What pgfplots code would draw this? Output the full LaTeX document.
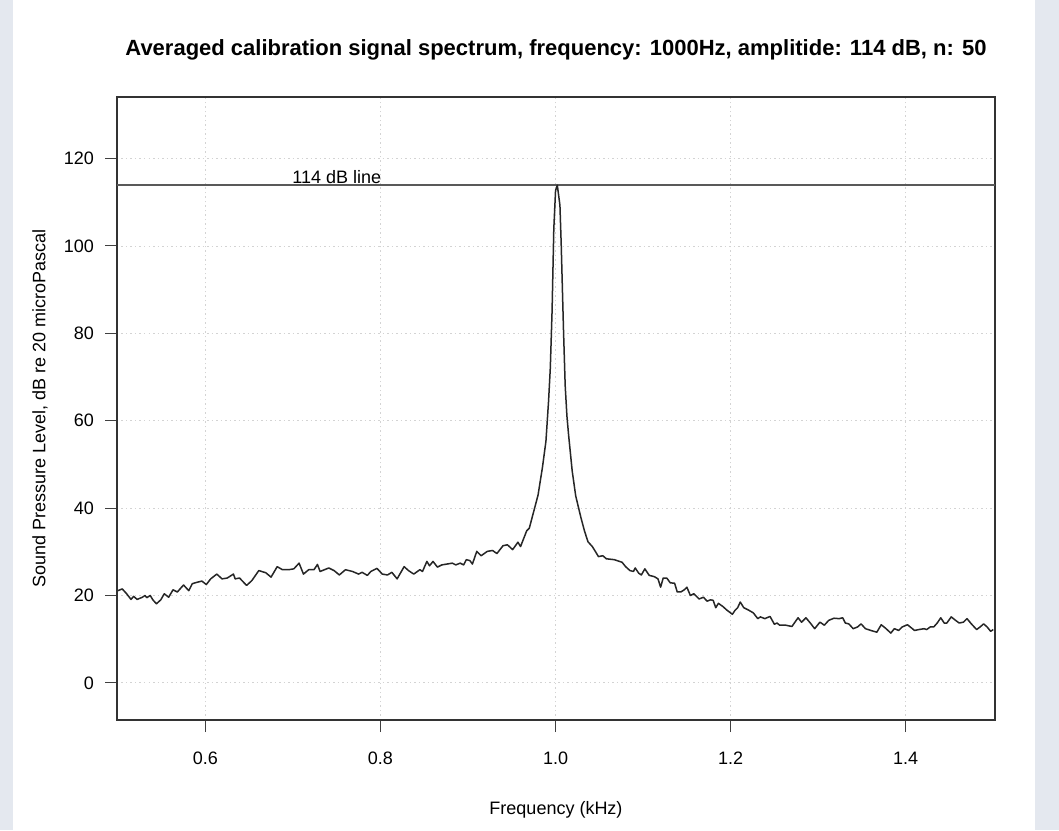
\documentclass[border=0pt]{standalone}
\usepackage{fontspec}
\setmainfont{Liberation Sans}
\usepackage{pgfplots}
\pgfplotsset{compat=1.18}
\definecolor{bgside}{HTML}{E4E8EF}
\definecolor{gridgray}{HTML}{D3D3D3}

\pgfplotstableread{
f dB
0.500 21.1
0.505 21.5
0.510 20.4
0.515 19.1
0.518 19.8
0.522 19.1
0.528 19.6
0.531 20.0
0.533 19.5
0.537 20.0
0.540 19.0
0.544 18.1
0.549 19.0
0.553 20.4
0.558 19.6
0.563 21.3
0.568 20.8
0.571 21.5
0.575 22.4
0.581 21.1
0.585 22.7
0.590 23.0
0.596 23.3
0.601 22.5
0.606 23.8
0.613 24.9
0.619 23.8
0.625 24.0
0.632 24.9
0.634 23.8
0.639 24.0
0.647 22.3
0.653 23.4
0.661 25.7
0.669 25.2
0.675 24.2
0.682 26.6
0.688 25.9
0.695 25.9
0.701 26.1
0.707 27.4
0.712 24.9
0.718 25.9
0.724 25.9
0.728 27.1
0.731 25.5
0.741 26.3
0.747 25.7
0.753 24.7
0.760 25.9
0.768 25.5
0.775 24.9
0.779 25.3
0.785 24.6
0.789 25.5
0.796 26.2
0.802 24.9
0.808 24.7
0.813 25.3
0.819 23.8
0.827 26.6
0.832 25.7
0.838 24.9
0.845 25.9
0.848 25.5
0.853 27.8
0.856 26.8
0.860 27.8
0.865 26.5
0.870 27.0
0.882 27.4
0.886 27.0
0.891 27.4
0.895 27.0
0.898 28.2
0.902 28.0
0.905 27.2
0.910 30.1
0.915 29.1
0.922 30.1
0.928 30.3
0.933 29.6
0.940 31.4
0.945 31.6
0.951 30.5
0.957 32.2
0.960 31.2
0.967 34.8
0.970 35.4
0.975 39.2
0.980 43.0
0.985 49.3
0.989 55.3
0.992 64.5
0.994 72.1
0.996 85.0
0.998 104.0
1.000 112.7
1.002 113.9
1.005 109.3
1.0065 100.0
1.009 81.2
1.011 68.0
1.013 61.0
1.015 56.5
1.019 48.5
1.023 42.8
1.029 37.8
1.033 34.8
1.037 32.3
1.042 31.2
1.046 29.9
1.049 28.9
1.054 29.1
1.058 28.4
1.067 28.2
1.076 27.6
1.080 26.6
1.085 25.7
1.089 25.5
1.091 26.3
1.095 25.1
1.098 24.7
1.102 26.1
1.107 24.6
1.113 24.3
1.117 23.8
1.120 21.9
1.123 24.0
1.127 24.0
1.131 22.9
1.136 22.8
1.139 20.8
1.143 20.8
1.147 21.3
1.150 21.9
1.154 20.0
1.158 20.4
1.164 19.2
1.169 19.6
1.173 18.7
1.177 19.0
1.180 18.9
1.183 17.2
1.186 18.2
1.191 17.5
1.196 16.6
1.202 15.7
1.205 16.6
1.208 17.2
1.211 18.5
1.215 17.2
1.221 16.6
1.226 16.0
1.231 14.7
1.234 15.1
1.239 14.7
1.245 15.2
1.250 13.4
1.253 13.7
1.256 13.2
1.263 13.2
1.270 12.9
1.277 14.9
1.281 13.9
1.286 14.9
1.291 13.7
1.296 12.4
1.302 13.9
1.307 13.2
1.312 14.3
1.318 14.8
1.324 14.7
1.328 14.9
1.331 13.7
1.335 13.5
1.340 12.4
1.345 12.8
1.349 13.5
1.354 12.4
1.360 12.0
1.367 11.6
1.372 13.3
1.377 12.5
1.383 11.4
1.387 12.4
1.392 12.0
1.396 12.8
1.402 13.3
1.407 12.5
1.410 12.0
1.415 12.2
1.421 12.4
1.424 12.2
1.428 12.8
1.432 12.8
1.436 13.7
1.440 14.9
1.444 13.7
1.447 13.7
1.452 15.1
1.457 14.3
1.461 13.7
1.466 13.9
1.470 14.7
1.475 13.5
1.481 12.2
1.485 12.8
1.489 13.5
1.493 12.8
1.497 11.8
1.500 12.2
}\spectrum

\begin{document}
\begin{tikzpicture}[x=1pt,y=1pt]
% page frame: light side strips, white panel
\useasboundingbox (-117,-110) rectangle (942,720);
\fill[bgside] (-117,-110) rectangle (-104,720);
\fill[white] (-104,-110) rectangle (918,720);
\fill[bgside] (918,-110) rectangle (942,720);

\begin{axis}[
  at={(0,0)}, anchor=south west,
  scale only axis, width=878pt, height=623pt,
  xmin=0.499, xmax=1.502, ymin=-8.5, ymax=134.1,
  xtick={0.6,0.8,1.0,1.2,1.4}, ytick={0,20,40,60,80,100,120},
  xtick pos=bottom, ytick pos=left,
  tick align=outside, major tick length=12pt,
  axis line style={draw=black!80, line width=1.1pt},
  tick style={draw=black!75, line width=1pt},
  grid=major,
  major grid style={draw=gridgray, line width=0.9pt, dash pattern=on 1.5pt off 3pt},
  font=\fontsize{18}{21}\selectfont,
  /pgf/number format/assume math mode=true,
  xticklabel style={anchor=base, inner sep=0pt, yshift=-32pt,
    /pgf/number format/fixed, /pgf/number format/fixed zerofill,
    /pgf/number format/precision=1},
  yticklabel style={anchor=east, inner sep=0pt, xshift=-11pt},
  xlabel={Frequency (kHz)},
  ylabel={Sound Pressure Level, dB re 20 microPascal},
  xlabel style={at={(axis description cs:0.5,0)}, anchor=base, inner sep=0pt, yshift=-94pt},
  ylabel style={at={(axis description cs:0,0.5)}, anchor=base, inner sep=0pt, yshift=71.5pt},
  title={Averaged calibration signal spectrum, frequency: 1000Hz, amplitide: 114 dB, n: 50},
  title style={at={(axis description cs:0.5,1)}, anchor=base, inner sep=0pt, yshift=35pt,
    font=\bfseries\fontsize{22}{26}\selectfont},
]
\addplot[draw=black!65, line width=1.6pt] coordinates {(0.499,114) (1.502,114)};
\node[anchor=base, inner sep=0pt, yshift=1.5pt] at (axis cs:0.75,114) {114 dB line};
\addplot[draw=black!85, line width=1.5pt, line join=round] table[x=f, y=dB] {\spectrum};
\end{axis}
\end{tikzpicture}
\end{document}
